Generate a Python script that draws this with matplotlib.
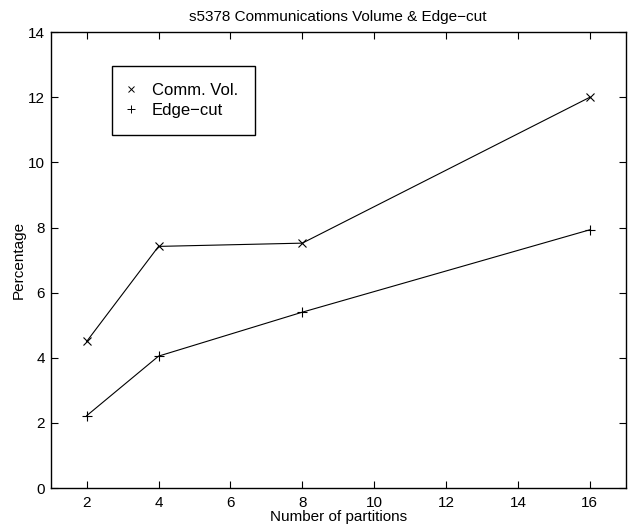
import matplotlib
matplotlib.use("Agg")
import matplotlib.pyplot as plt
from matplotlib.lines import Line2D

plt.rcParams["font.family"] = ["Liberation Sans", "DejaVu Sans"]

partitions = [2, 4, 8, 16]
comm_vol = [4.5, 7.42, 7.52, 12.0]
edge_cut = [2.22, 4.05, 5.4, 7.93]

fig = plt.figure(figsize=(6.34, 5.27), dpi=100)
ax = fig.add_axes([0.080, 0.074, 0.907, 0.865])

ax.plot(partitions, comm_vol, color="black", lw=0.8, marker="x", ms=6, mew=0.8)
ax.plot(partitions, edge_cut, color="black", lw=0.8, marker="+", ms=7, mew=0.8)

ax.set_xlim(1, 17)
ax.set_ylim(0, 14)
ax.set_xticks(range(2, 17, 2))
ax.set_yticks(range(0, 15, 2))
ax.tick_params(direction="in", top=True, right=True, length=5, width=0.8,
               labelsize=11, colors="black")
ax.tick_params(axis="x", pad=6)
ax.tick_params(axis="y", pad=4)
for s in ax.spines.values():
    s.set_linewidth(1.0)

ax.set_title("s5378 Communications Volume & Edge\u2212cut", fontsize=11, pad=8)
ax.set_xlabel("Number of partitions", fontsize=11, labelpad=0)
ax.set_ylabel("Percentage", fontsize=11, labelpad=1.5)

handles = [Line2D([], [], ls="none", marker="x", color="black", ms=5, mew=0.7),
           Line2D([], [], ls="none", marker="+", color="black", ms=6, mew=0.7)]
leg = ax.legend(handles, ["Comm. Vol.", "Edge\u2212cut"], loc="upper left",
                bbox_to_anchor=(0.1066, 0.925), fontsize=12, fancybox=False,
                edgecolor="black", framealpha=1, borderpad=1.0, borderaxespad=0,
                handletextpad=1.1, handlelength=0.3, labelspacing=0.3)
leg.get_frame().set_linewidth(1.0)

fig.savefig("out.png", dpi=100)
